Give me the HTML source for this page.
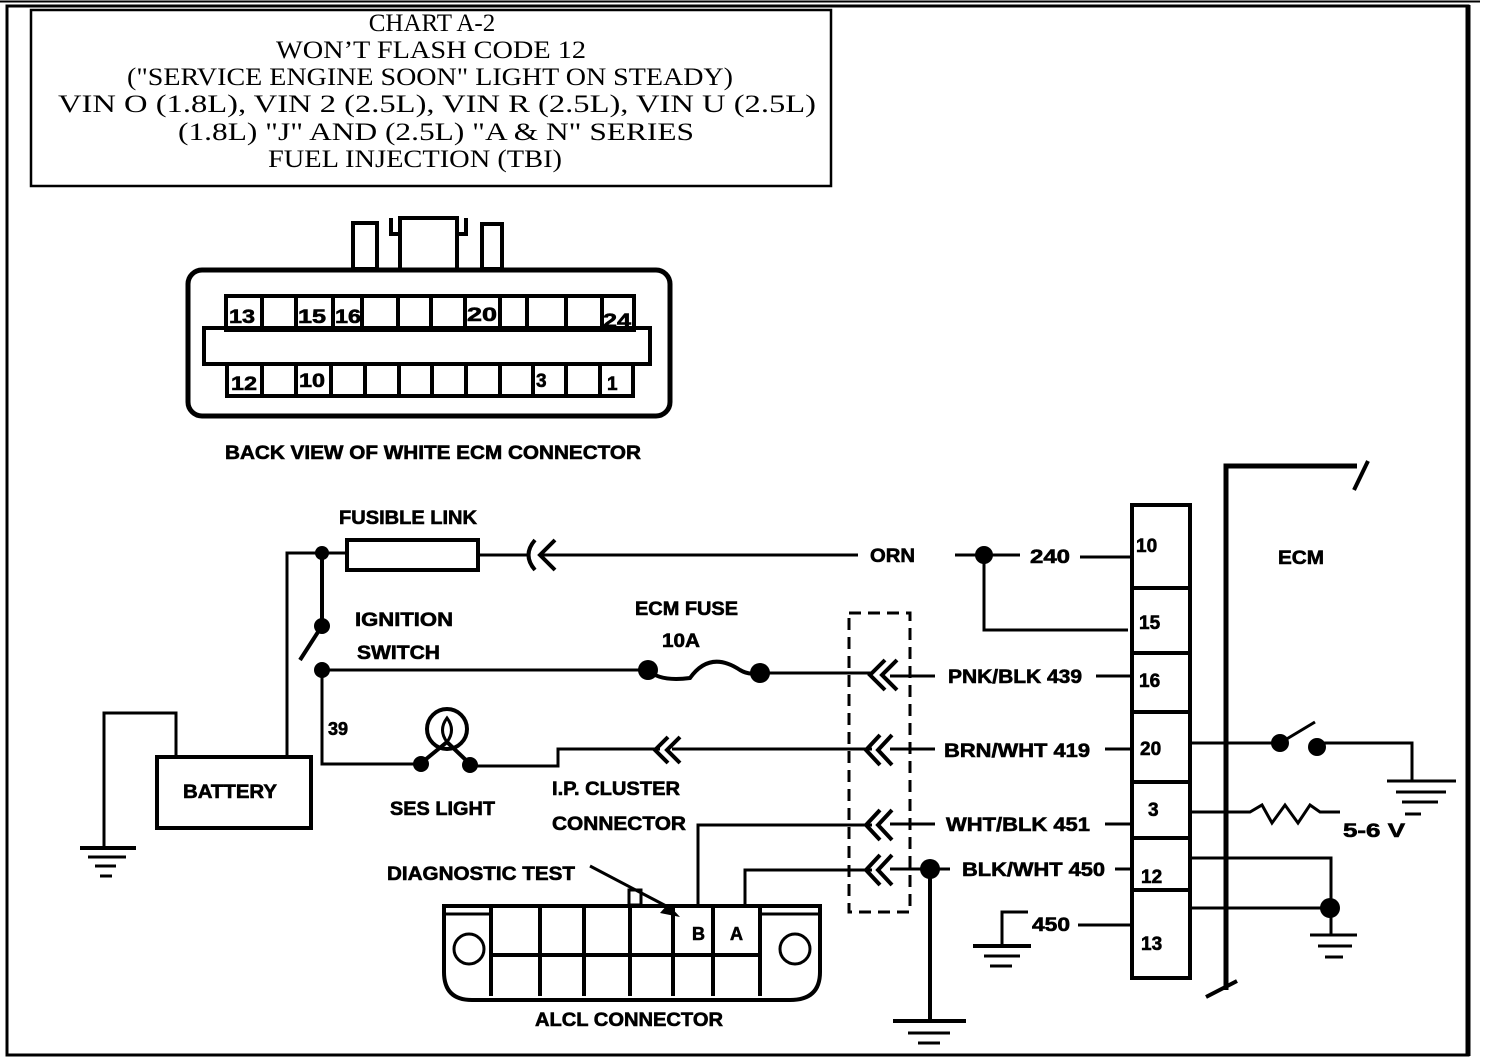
<!DOCTYPE html>
<html><head><meta charset="utf-8"><style>
html,body{margin:0;padding:0;background:#fff;}
svg{display:block;}
.t{font-family:"Liberation Serif",serif;font-size:25px;fill:#000;}
.b{font-family:"Liberation Sans",sans-serif;font-weight:bold;font-size:19px;fill:#000;stroke:#000;stroke-width:0.6;}
</style></head><body>
<svg width="1504" height="1060" viewBox="0 0 1504 1060" xmlns="http://www.w3.org/2000/svg">
<g fill="none" stroke="#000" stroke-width="3">
<line x1="0" y1="1.5" x2="1480" y2="1.5" stroke-width="2"/>
<rect x="7" y="6" width="1461" height="1049" stroke-width="3"/>
<line x1="1468" y1="5" x2="1468" y2="1056" stroke-width="5"/>
<rect x="31" y="10" width="800" height="176" stroke-width="2.5"/>
</g>
<g class="t" text-anchor="middle">
<text x="432" y="31" class="t">CHART A-2</text>
<text x="431" y="58" class="t" textLength="310" lengthAdjust="spacingAndGlyphs">WON’T FLASH CODE 12</text>
<text x="430" y="85" class="t" textLength="606" lengthAdjust="spacingAndGlyphs">("SERVICE ENGINE SOON" LIGHT ON STEADY)</text>
<text x="437" y="112" class="t" textLength="758" lengthAdjust="spacingAndGlyphs">VIN O (1.8L), VIN 2 (2.5L), VIN R (2.5L), VIN U (2.5L)</text>
<text x="436" y="140" class="t" textLength="516" lengthAdjust="spacingAndGlyphs">(1.8L) "J" AND (2.5L) "A &amp; N" SERIES</text>
<text x="415" y="167" class="t" textLength="294" lengthAdjust="spacingAndGlyphs">FUEL INJECTION (TBI)</text>
</g>

<g fill="none" stroke="#000" stroke-width="5">
<rect x="188" y="270" width="482" height="146" rx="14"/>
<rect x="353" y="223" width="24" height="46" stroke-width="4"/>
<rect x="482" y="224" width="20" height="45" stroke-width="4"/>
<path d="M400 268 V218 H457 V268" stroke-width="4"/>
<path d="M391 218 V234 H400 M466 218 V234 H457" stroke-width="4"/>
<rect x="226" y="296" width="408" height="34" stroke-width="4"/>
<rect x="204" y="328" width="446" height="36" stroke-width="4"/>
<rect x="227" y="364" width="406" height="32" stroke-width="4"/>
</g>
<g stroke="#000" stroke-width="4">
<line x1="262" y1="296" x2="262" y2="330"/><line x1="296" y1="296" x2="296" y2="330"/><line x1="333" y1="296" x2="333" y2="330"/>
<line x1="362" y1="296" x2="362" y2="330"/><line x1="398" y1="296" x2="398" y2="330"/><line x1="431" y1="296" x2="431" y2="330"/>
<line x1="465" y1="296" x2="465" y2="330"/><line x1="500" y1="296" x2="500" y2="330"/><line x1="527" y1="296" x2="527" y2="330"/>
<line x1="566" y1="296" x2="566" y2="330"/><line x1="602" y1="296" x2="602" y2="330"/>
<line x1="262" y1="364" x2="262" y2="396"/><line x1="296" y1="364" x2="296" y2="396"/><line x1="331" y1="364" x2="331" y2="396"/>
<line x1="365" y1="364" x2="365" y2="396"/><line x1="399" y1="364" x2="399" y2="396"/><line x1="432" y1="364" x2="432" y2="396"/>
<line x1="466" y1="364" x2="466" y2="396"/><line x1="500" y1="364" x2="500" y2="396"/><line x1="533" y1="364" x2="533" y2="396"/>
<line x1="566" y1="364" x2="566" y2="396"/><line x1="600" y1="364" x2="600" y2="396"/>
</g>
<g class="b" font-size="21">
<text x="229" y="323" textLength="26" lengthAdjust="spacingAndGlyphs">13</text><text x="298" y="323" textLength="28" lengthAdjust="spacingAndGlyphs">15</text><text x="335" y="323" textLength="26" lengthAdjust="spacingAndGlyphs">16</text><text x="467" y="321" textLength="30" lengthAdjust="spacingAndGlyphs">20</text><text x="603" y="327" textLength="28" lengthAdjust="spacingAndGlyphs">24</text>
<text x="231" y="390" textLength="26" lengthAdjust="spacingAndGlyphs">12</text><text x="299" y="387" textLength="26" lengthAdjust="spacingAndGlyphs">10</text><text x="536" y="387">3</text><text x="607" y="390">1</text>
</g>
<text x="225" y="459" class="b" textLength="416" lengthAdjust="spacingAndGlyphs">BACK VIEW OF WHITE ECM CONNECTOR</text>

<g fill="none" stroke="#000" stroke-width="3">
<path d="M287 757 V553 H322"/>
<line x1="322" y1="553" x2="346" y2="553"/>
<rect x="347" y="540" width="131" height="30" stroke-width="4"/>
<line x1="478" y1="555" x2="528" y2="555"/>
<line x1="540" y1="555" x2="858" y2="555"/>
<path d="M535 540 Q522 555 535 570 M555 540 L540 555 L555 570" stroke-width="4"/>
<line x1="955" y1="555" x2="1020" y2="555"/>
<line x1="1080" y1="557" x2="1132" y2="557"/>
<path d="M984 555 V630 H1128"/>
<line x1="322" y1="553" x2="322" y2="622" stroke-width="4"/>
<line x1="318" y1="632" x2="300" y2="660" stroke-width="4"/>
<path d="M322 670 V764 H420"/>
<line x1="322" y1="670" x2="648" y2="670"/>
<path d="M648 670 Q660 682 690 678 Q710 650 740 670 Q750 676 760 672" stroke-width="4"/>
<line x1="760" y1="673" x2="872" y2="673"/>
<line x1="890" y1="676" x2="935" y2="676"/>
<line x1="1096" y1="676" x2="1132" y2="676"/>
<circle cx="447" cy="729" r="20" stroke-width="4"/>
<path d="M447 718 Q438 730 447 742 Q456 730 447 718 Z" stroke-width="3"/>
<path d="M420 764 L447 742 L470 764" stroke-width="4"/>
<path d="M470 766 H558 V749 H660"/>
<line x1="672" y1="749" x2="872" y2="749"/>
<line x1="890" y1="749" x2="935" y2="749"/>
<line x1="1105" y1="749" x2="1132" y2="749"/>
<path d="M698 905 V825 H872"/>
<line x1="890" y1="824" x2="935" y2="824"/>
<line x1="1105" y1="824" x2="1132" y2="824"/>
<path d="M745 905 V870 H872"/>
<line x1="890" y1="869" x2="950" y2="869"/>
<line x1="1115" y1="869" x2="1132" y2="869"/>
<line x1="930" y1="869" x2="930" y2="1020" stroke-width="4"/>
<rect x="849" y="613" width="61" height="299" stroke-dasharray="12 7" stroke-width="3"/>
<path d="M885 660 L870 675 L885 690 M897 660 L882 675 L897 690" stroke-width="4"/>
<path d="M668 737 L655 750 L668 763 M680 737 L667 750 L680 763" stroke-width="4"/>
<path d="M880 735 L866 750 L880 765 M892 735 L878 750 L892 765" stroke-width="4"/>
<path d="M880 810 L866 825 L880 840 M892 810 L878 825 L892 840" stroke-width="4"/>
<path d="M880 855 L866 870 L880 885 M892 855 L878 870 L892 885" stroke-width="4"/>
<line x1="893" y1="1021" x2="966" y2="1021" stroke-width="4"/>
<line x1="908" y1="1033" x2="950" y2="1033" stroke-width="3"/>
<line x1="918" y1="1043" x2="940" y2="1043" stroke-width="3"/>
<rect x="157" y="757" width="154" height="71" stroke-width="4"/>
<path d="M176 757 V713 H104 V846"/>
<line x1="80" y1="848" x2="136" y2="848" stroke-width="4"/>
<line x1="88" y1="857" x2="126" y2="857" stroke-width="3"/>
<line x1="95" y1="866" x2="116" y2="866" stroke-width="3"/>
<line x1="100" y1="876" x2="112" y2="876" stroke-width="3"/>
<rect x="1132" y="505" width="58" height="473" stroke-width="4"/>
<line x1="1132" y1="588" x2="1190" y2="588" stroke-width="4"/>
<line x1="1132" y1="653" x2="1190" y2="653" stroke-width="4"/>
<line x1="1132" y1="712" x2="1190" y2="712" stroke-width="4"/>
<line x1="1132" y1="782" x2="1190" y2="782" stroke-width="4"/>
<line x1="1132" y1="838" x2="1190" y2="838" stroke-width="4"/>
<line x1="1132" y1="890" x2="1190" y2="890" stroke-width="4"/>
<path d="M1226 990 V466 H1357" stroke-width="5"/>
<line x1="1354" y1="490" x2="1368" y2="461" stroke-width="4"/>
<line x1="1206" y1="997" x2="1237" y2="981" stroke-width="4"/>
<line x1="1190" y1="743" x2="1280" y2="743"/>
<line x1="1280" y1="743" x2="1315" y2="722"/>
<path d="M1318 743 H1412 V780"/>
<line x1="1387" y1="781" x2="1456" y2="781" stroke-width="3"/>
<line x1="1396" y1="792" x2="1446" y2="792" stroke-width="3"/>
<line x1="1402" y1="802" x2="1438" y2="802" stroke-width="3"/>
<line x1="1405" y1="814" x2="1421" y2="814" stroke-width="3"/>
<path d="M1190 812 H1250 L1262 805 L1272 823 L1285 805 L1298 823 L1310 805 L1320 812 H1340"/>
<path d="M1190 858 H1331 V935"/>
<line x1="1190" y1="908" x2="1330" y2="908"/>
<line x1="1310" y1="935" x2="1357" y2="935" stroke-width="3"/>
<line x1="1318" y1="946" x2="1352" y2="946" stroke-width="3"/>
<line x1="1325" y1="957" x2="1343" y2="957" stroke-width="3"/>
<line x1="1078" y1="925" x2="1132" y2="925"/>
<path d="M1028 912 H1002 V945"/>
<line x1="973" y1="946" x2="1031" y2="946" stroke-width="4"/>
<line x1="984" y1="956" x2="1020" y2="956" stroke-width="3"/>
<line x1="990" y1="966" x2="1012" y2="966" stroke-width="3"/>
<path d="M444 906 H820 V972 Q820 1000 790 1000 H472 Q444 1000 444 972 Z" stroke-width="4"/>
<line x1="444" y1="914" x2="491" y2="914"/>
<line x1="760" y1="914" x2="820" y2="914"/>
<line x1="491" y1="906" x2="491" y2="996" stroke-width="4"/>
<line x1="540" y1="906" x2="540" y2="996" stroke-width="4"/>
<line x1="584" y1="906" x2="584" y2="996" stroke-width="4"/>
<line x1="630" y1="906" x2="630" y2="996" stroke-width="4"/>
<line x1="673" y1="906" x2="673" y2="996" stroke-width="4"/>
<line x1="713" y1="906" x2="713" y2="996" stroke-width="4"/>
<line x1="760" y1="906" x2="760" y2="996" stroke-width="4"/>
<line x1="491" y1="955" x2="760" y2="955" stroke-width="4"/>
<circle cx="469" cy="949" r="15"/>
<circle cx="795" cy="949" r="15"/>
<rect x="629" y="890" width="12" height="15" stroke-width="3"/>
<line x1="590" y1="866" x2="670" y2="908" stroke-width="3"/>
</g>
<path d="M680 917 L660 913 L668 904 Z" fill="#000"/>
<g fill="#000">
<circle cx="322" cy="553" r="7"/>
<circle cx="322" cy="626" r="8"/>
<circle cx="322" cy="670" r="8"/>
<circle cx="648" cy="670" r="10"/>
<circle cx="760" cy="673" r="10"/>
<circle cx="421" cy="764" r="8"/>
<circle cx="470" cy="765" r="8"/>
<circle cx="984" cy="555" r="9"/>
<circle cx="930" cy="869" r="10"/>
<circle cx="1280" cy="743" r="9"/>
<circle cx="1317" cy="747" r="9"/>
<circle cx="1330" cy="908" r="10"/>
</g>
<g class="b">
<text x="339" y="524" textLength="138" lengthAdjust="spacingAndGlyphs">FUSIBLE LINK</text>
<text x="355" y="626" textLength="98" lengthAdjust="spacingAndGlyphs">IGNITION</text>
<text x="357" y="659" textLength="83" lengthAdjust="spacingAndGlyphs">SWITCH</text>
<text x="635" y="615" textLength="103" lengthAdjust="spacingAndGlyphs">ECM FUSE</text>
<text x="662" y="647" textLength="38" lengthAdjust="spacingAndGlyphs">10A</text>
<text x="328" y="735" font-size="18">39</text>
<text x="390" y="815" textLength="105" lengthAdjust="spacingAndGlyphs">SES LIGHT</text>
<text x="552" y="795" textLength="128" lengthAdjust="spacingAndGlyphs">I.P. CLUSTER</text>
<text x="552" y="830" textLength="134" lengthAdjust="spacingAndGlyphs">CONNECTOR</text>
<text x="183" y="798" textLength="94" lengthAdjust="spacingAndGlyphs">BATTERY</text>
<text x="387" y="880" textLength="188" lengthAdjust="spacingAndGlyphs">DIAGNOSTIC TEST</text>
<text x="535" y="1026" textLength="188" lengthAdjust="spacingAndGlyphs">ALCL CONNECTOR</text>
<text x="692" y="940" font-size="18">B</text>
<text x="730" y="940" font-size="18">A</text>
<text x="870" y="562" textLength="45" lengthAdjust="spacingAndGlyphs">ORN</text>
<text x="1030" y="563" textLength="40" lengthAdjust="spacingAndGlyphs">240</text>
<text x="948" y="683" textLength="134" lengthAdjust="spacingAndGlyphs">PNK/BLK 439</text>
<text x="944" y="757" textLength="146" lengthAdjust="spacingAndGlyphs">BRN/WHT 419</text>
<text x="946" y="831" textLength="144" lengthAdjust="spacingAndGlyphs">WHT/BLK 451</text>
<text x="962" y="876" textLength="143" lengthAdjust="spacingAndGlyphs">BLK/WHT 450</text>
<text x="1032" y="931" textLength="38" lengthAdjust="spacingAndGlyphs">450</text>
<text x="1343" y="837" textLength="62" lengthAdjust="spacingAndGlyphs">5-6 V</text>
<text x="1278" y="564" textLength="46" lengthAdjust="spacingAndGlyphs">ECM</text>
<text x="1136" y="552">10</text>
<text x="1139" y="629">15</text>
<text x="1139" y="687">16</text>
<text x="1140" y="755">20</text>
<text x="1148" y="816">3</text>
<text x="1141" y="883">12</text>
<text x="1141" y="950">13</text>
</g>
</svg>
</body></html>
